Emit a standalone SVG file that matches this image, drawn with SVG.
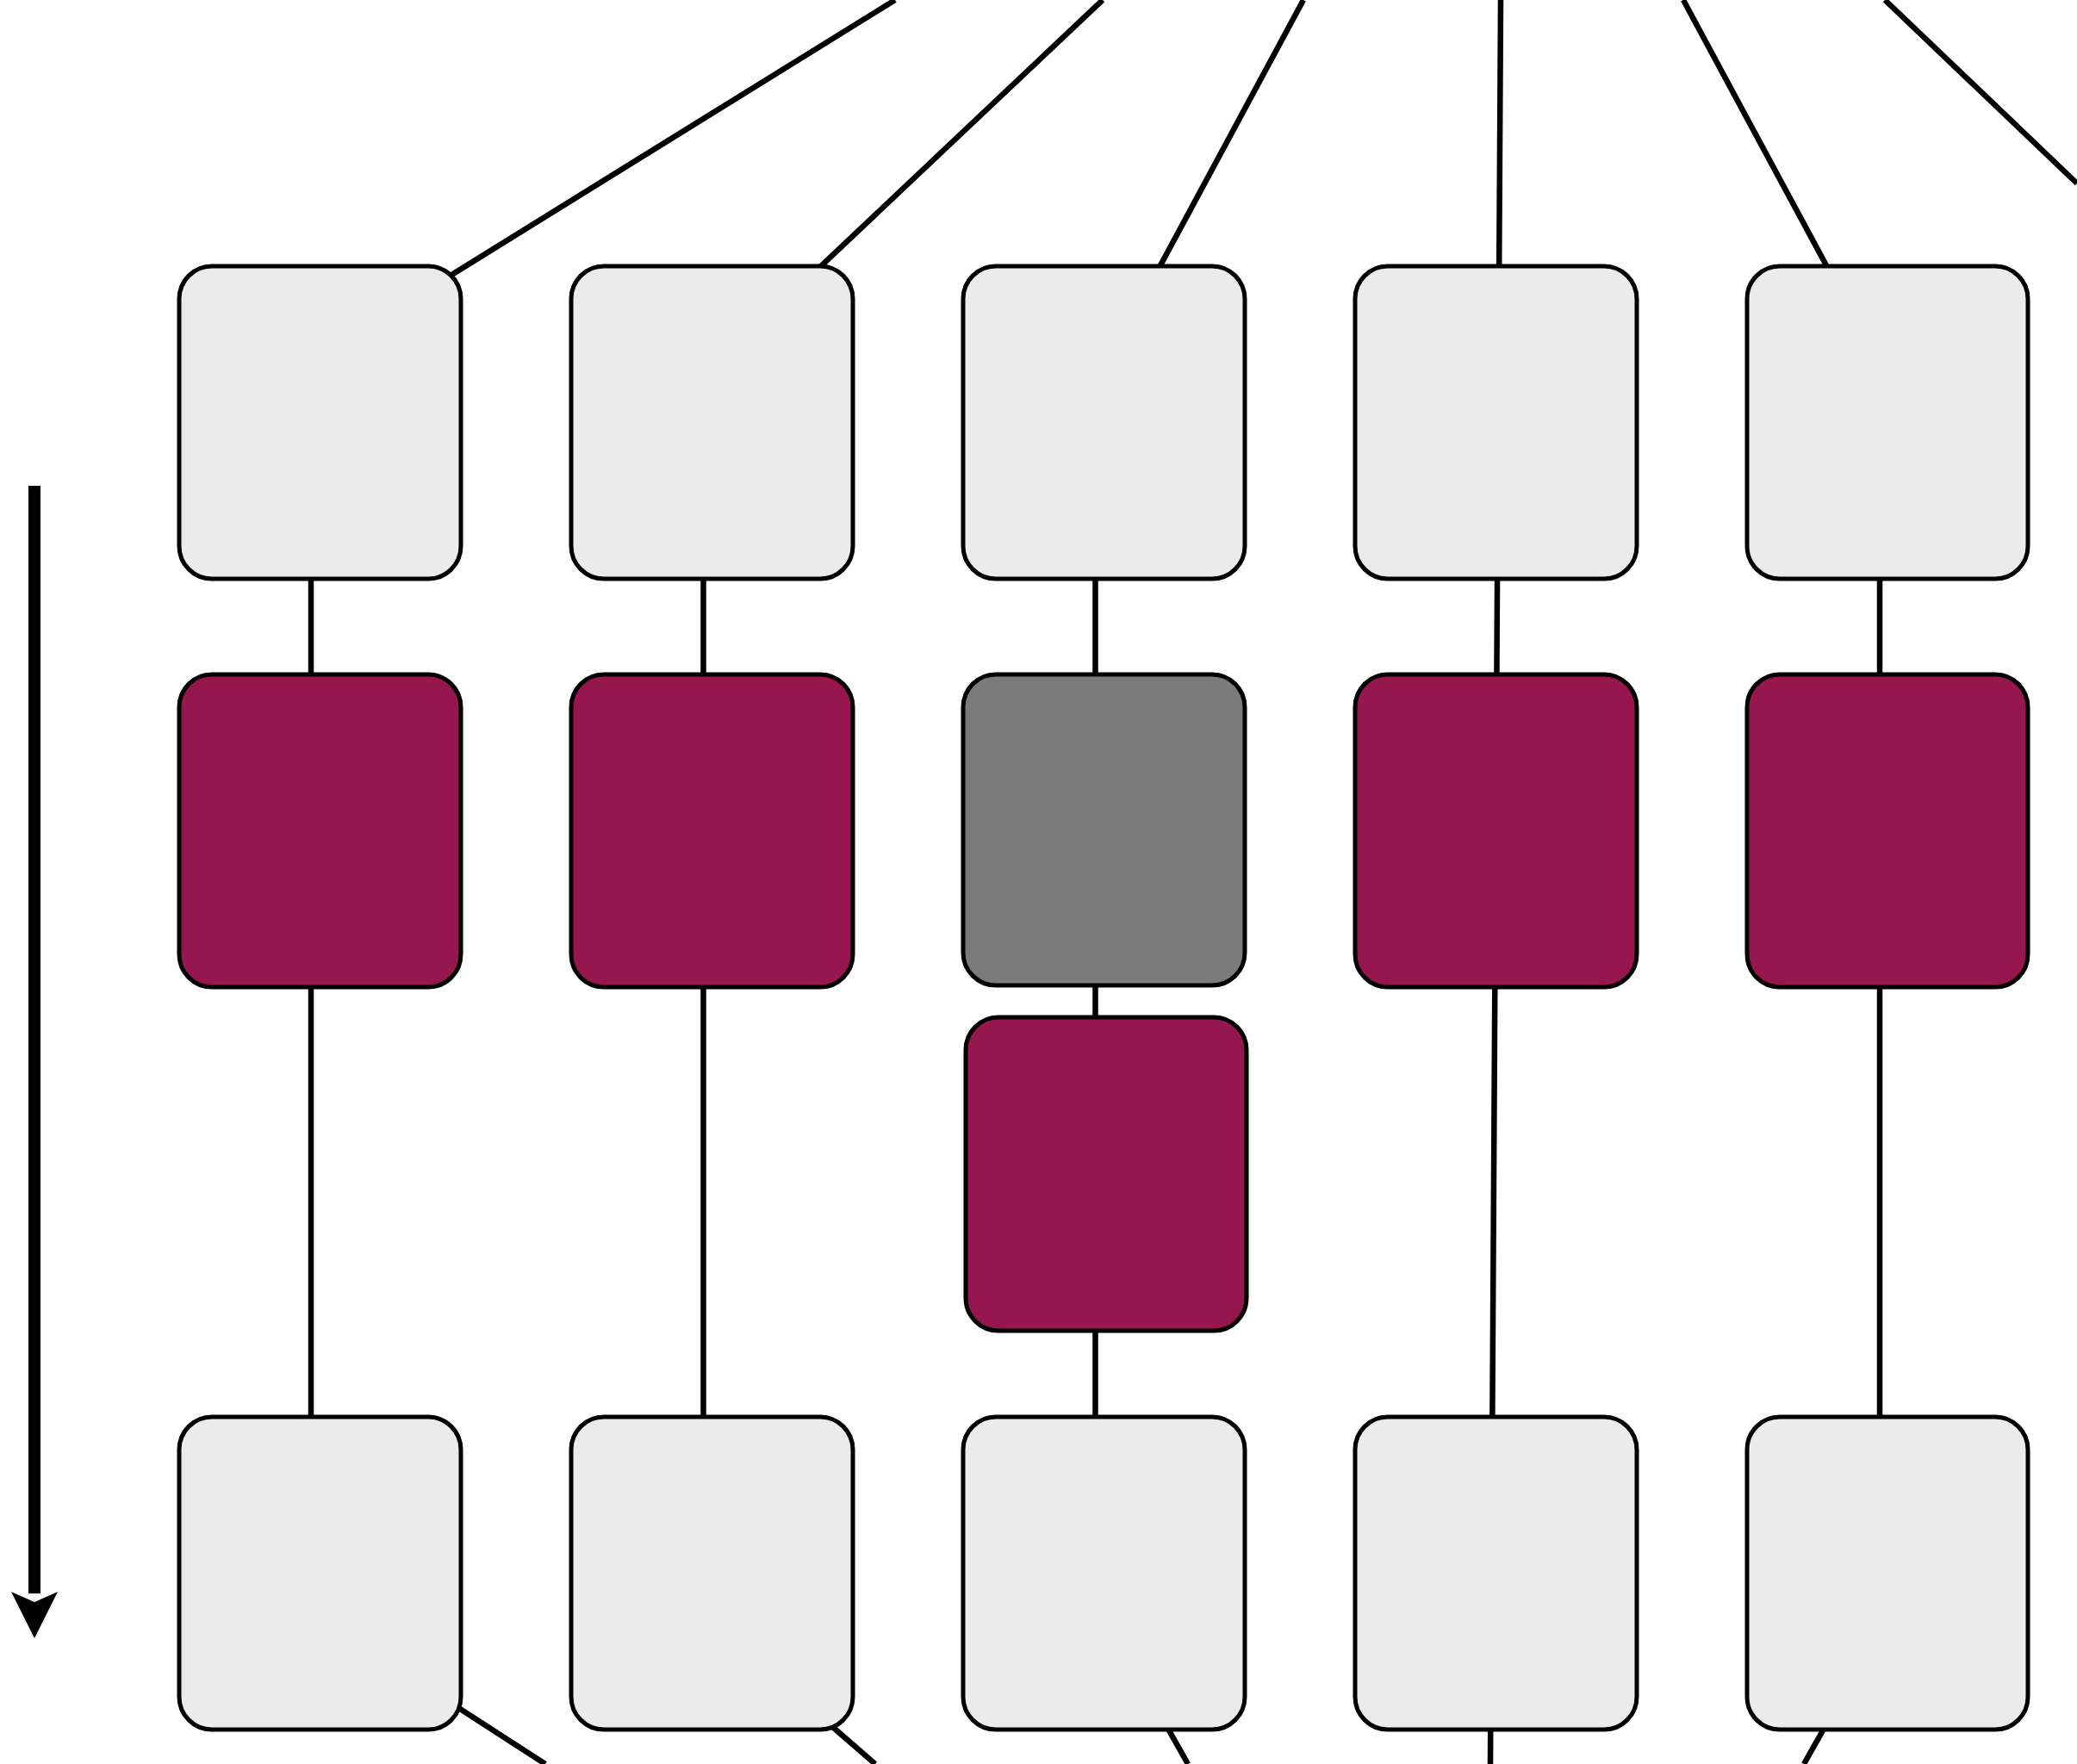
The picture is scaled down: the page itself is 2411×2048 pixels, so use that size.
<svg xmlns="http://www.w3.org/2000/svg" width="2411" height="2048" viewBox="0 0 2411 2048">
<defs>
<style>
.c{stroke:#000;stroke-width:6.5;fill:none}
.n{stroke:#000;stroke-width:5}
.l{fill:#EBEBEB}
.p{fill:#95174E}
.g{fill:#7B7B7B}
</style>
</defs>
<rect width="2411" height="2048" fill="#fff"/>
<g id="timeline">
<line x1="40" y1="564" x2="40" y2="1850" stroke="#000" stroke-width="14"/>
<path d="M13,1848 L40,1860 L67,1848 L40,1902 Z" fill="#000"/>
</g>
<g id="connectors">
<line class="c" x1="1039" y1="0" x2="371" y2="414"/>
<line class="c" x1="1280" y1="0" x2="828" y2="427"/>
<line class="c" x1="1513" y1="0" x2="1276" y2="440"/>
<line class="c" x1="1742" y1="0" x2="1730" y2="2048"/>
<line class="c" x1="1954" y1="0" x2="2191" y2="440"/>
<line class="c" x1="2188" y1="0" x2="2411" y2="213"/>
<line class="c" x1="361" y1="500" x2="361" y2="1800"/>
<line class="c" x1="816.5" y1="500" x2="816.5" y2="1800"/>
<line class="c" x1="1271.5" y1="500" x2="1271.5" y2="1800"/>
<line class="c" x1="2182" y1="500" x2="2182" y2="1800"/>
<line class="c" x1="500" y1="1962" x2="633" y2="2048"/>
<line class="c" x1="940" y1="1982" x2="1016" y2="2048"/>
<line class="c" x1="1340" y1="1979" x2="1379" y2="2048"/>
<line class="c" x1="2133" y1="1979" x2="2094" y2="2048"/>
</g>
<g id="n1"><rect class="n l" x="208" y="309" width="327" height="363" rx="38"/></g>
<g id="n2"><rect class="n l" x="663" y="309" width="327" height="363" rx="38"/></g>
<g id="n3"><rect class="n l" x="1118" y="309" width="327" height="363" rx="38"/></g>
<g id="n4"><rect class="n l" x="1573" y="309" width="327" height="363" rx="38"/></g>
<g id="n5"><rect class="n l" x="2028" y="309" width="326" height="363" rx="38"/></g>
<g id="n6"><rect class="n p" x="208" y="783" width="327" height="363" rx="38"/></g>
<g id="n7"><rect class="n p" x="663" y="783" width="327" height="363" rx="38"/></g>
<g id="n8"><rect class="n g" x="1118" y="783" width="327" height="361" rx="38"/></g>
<g id="n9"><rect class="n p" x="1573" y="783" width="327" height="363" rx="38"/></g>
<g id="n10"><rect class="n p" x="2028" y="783" width="326" height="363" rx="38"/></g>
<g id="n11"><rect class="n p" x="1121" y="1181" width="326" height="364" rx="38"/></g>
<g id="n12"><rect class="n l" x="208" y="1645" width="327" height="363" rx="38"/></g>
<g id="n13"><rect class="n l" x="663" y="1645" width="327" height="363" rx="38"/></g>
<g id="n14"><rect class="n l" x="1118" y="1645" width="327" height="363" rx="38"/></g>
<g id="n15"><rect class="n l" x="1573" y="1645" width="327" height="363" rx="38"/></g>
<g id="n16"><rect class="n l" x="2028" y="1645" width="326" height="363" rx="38"/></g>
</svg>
